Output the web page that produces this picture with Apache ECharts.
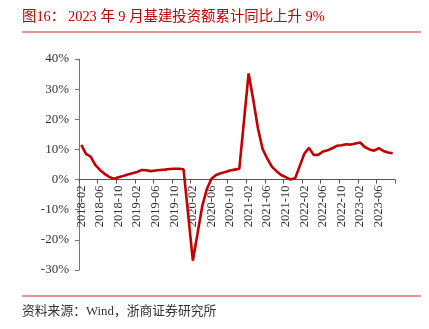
<!DOCTYPE html>
<html><head><meta charset="utf-8">
<script src="https://cdn.jsdelivr.net/npm/echarts@6/dist/echarts.min.js"></script>
<style>html,body{margin:0;padding:0;background:#fff}#c{width:429px;height:329px}</style>
</head><body><div id="c"></div>
<script>
var categories = [];
(function(){ for (var y = 2018; y <= 2023; y++) { for (var m = 1; m <= 12; m++) {
  if (y === 2018 && m < 2) continue; if (y === 2023 && m > 9) break;
  categories.push(y + '-' + (m < 10 ? '0' + m : m)); } } })();
var v2018 = [11.5, 8.5, 7.6, 4.9, 3.2, 1.9, 0.9, 0.3, 0.8, 1.2, 1.7];
var v2019 = [null, 2.5, 3.2, 3.1, 2.8, 3.0, 3.2, 3.3, 3.5, 3.6, 3.6, 3.4];
var v2020 = [null, -26.9, -18.0, -9.0, -3.2, 0.3, 1.5, 2.1, 2.5, 3.0, 3.3, 3.6];
var v2021 = [null, 35.2, 26.5, 17.0, 10.2, 7.0, 4.3, 2.8, 1.5, 0.8, 0.0, 0.4];
var v2022 = [null, 8.6, 10.5, 8.2, 8.2, 9.3, 9.7, 10.4, 11.2, 11.4, 11.7, 11.6];
var v2023 = [null, 12.3, 10.8, 10.0, 9.6, 10.4, 9.5, 9.0, 8.7];
var values = [].concat(v2018, v2019, v2020, v2021, v2022, v2023);
var yTicks = [-30, -20, -10, 0, 10, 20, 30, 40];

var gridTop = 59, gridBottom = 59, H = 329;
var plotH = H - gridTop - gridBottom;
var zeroOffset = -plotH * (0 - yTicks[0]) / (yTicks[yTicks.length - 1] - yTicks[0]);

var serif = "'Liberation Serif', 'Noto Sans CJK SC', serif";
var chart = echarts.init(document.getElementById('c'));
chart.setOption({
  animation: false,
  backgroundColor: '#fff',
  grid: { left: 79, right: 34, top: gridTop, bottom: gridBottom, containLabel: false },
  graphic: [
    { type: 'text', left: 22, top: 10, style: { text: '图16：', fill: '#C00000', font: "14.4px " + serif } },
    { type: 'text', left: 68, top: 10, style: { text: '2023 年 9 月基建投资额累计同比上升 9%', fill: '#C00000', font: "14.4px " + serif } },
    { type: 'line', shape: { x1: 22, y1: 32, x2: 421, y2: 32 }, style: { stroke: '#E57373', lineWidth: 1.5 } },
    { type: 'line', shape: { x1: 22, y1: 296, x2: 421, y2: 296 }, style: { stroke: '#E57373', lineWidth: 1.5 } },
    { type: 'text', left: 22, top: 305, style: { text: '资料来源：Wind，浙商证券研究所', fill: '#333', font: "12.8px " + serif } }
  ],
  xAxis: {
    type: 'category', data: categories, boundaryGap: true,
    offset: zeroOffset,
    axisLine: { onZero: false, lineStyle: { color: '#555', width: 1 } },
    axisTick: { show: true, interval: 3, length: 4, lineStyle: { color: '#555' } },
    axisLabel: { interval: 3, rotate: 90, margin: 6, color: '#333', fontFamily: serif, fontSize: 12.5 },
    splitLine: { show: false }
  },
  yAxis: {
    type: 'value', min: yTicks[0], max: yTicks[yTicks.length - 1], interval: 10,
    axisLine: { show: true, lineStyle: { color: '#777', width: 1 } },
    axisTick: { show: true, length: 4, lineStyle: { color: '#777' } },
    axisLabel: { margin: 10, color: '#333', fontFamily: serif, fontSize: 13, formatter: '{value}%' },
    splitLine: { show: false }
  },
  series: [{
    type: 'line', data: values, connectNulls: true, symbol: 'none', smooth: false,
    lineStyle: { color: '#C00000', width: 2.6 }
  }]
});
</script></body></html>
